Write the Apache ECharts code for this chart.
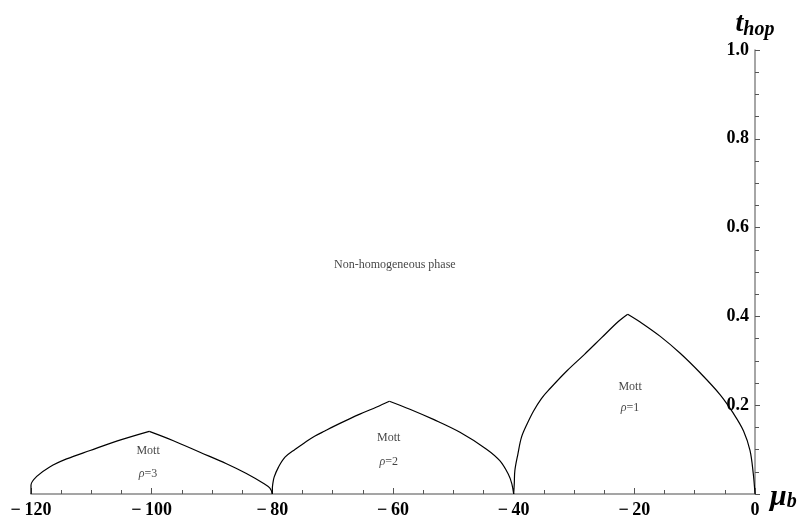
<!DOCTYPE html>
<html><head><meta charset="utf-8">
<script src="https://cdn.jsdelivr.net/npm/echarts@6/dist/echarts.min.js"></script>
<style>html,body{margin:0;padding:0;background:#fff}#c{width:800px;height:519px}</style>
</head><body><div id="c"></div>
<script>
// Mott lobe boundaries [mu_b, t_hop]; the peak (cusp) splits each lobe into two branches
const lobeRho1 = [[-40,0],[-39.9,0.023],[-39.8,0.053],[-39.3,0.09],[-38.7,0.128],[-37.8,0.157],[-36.7,0.187],[-35.4,0.215],[-34.0,0.237],[-31.2,0.277],[-28.3,0.314],[-25.5,0.351],[-22.7,0.388],[-21.1,0.405],[-19.1,0.388],[-15.7,0.355],[-12.4,0.317],[-9.1,0.273],[-5.8,0.224],[-3.6,0.182],[-1.9,0.142],[-0.83,0.098],[-0.28,0.045],[0,0]];
const lobeRho2 = [[-80,0],[-80,0.012],[-79.9,0.025],[-79.7,0.038],[-79.0,0.06],[-77.9,0.083],[-76.2,0.101],[-74.6,0.116],[-73.0,0.13],[-71.3,0.142],[-68.8,0.159],[-65.5,0.180],[-62.7,0.196],[-60.6,0.209],[-57.2,0.191],[-53.3,0.168],[-48.9,0.139],[-44.5,0.101],[-42.3,0.075],[-40.9,0.045],[-40.3,0.023],[-40,0]];
const lobeRho3 = [[-120,0],[-120,0.02],[-119.1,0.039],[-116.9,0.061],[-114.1,0.079],[-110.2,0.098],[-105.8,0.119],[-100.4,0.141],[-96.4,0.120],[-92.0,0.094],[-87.6,0.068],[-84.3,0.046],[-81.5,0.024],[-80.4,0.013],[-80,0]];
// text annotations [mu_b, t_hop, text]
const annotations = [
  [-59.7, 0.516, 'Non-homogeneous phase'],
  [-20.7, 0.241, 'Mott'], [-20.7, 0.194, '{i|ρ}=1'],
  [-60.7, 0.127, 'Mott'], [-60.7, 0.072, '{i|ρ}=2'],
  [-100.6, 0.098, 'Mott'], [-100.6, 0.045, '{i|ρ}=3']
];
const xTicks = {min: -120, max: 0, step: 20};
const yTicks = {min: 0, max: 1, step: 0.2};

const serif = 'Liberation Serif';
const chart = echarts.init(document.getElementById('c'));
const lineStyle = {color: '#000', width: 1.2};
function branches(data) {
  let k = 0;
  data.forEach((p, i) => { if (p[1] > data[k][1]) k = i; });
  const mk = d => ({type: 'line', data: d, symbol: 'none', smooth: 0.35, lineStyle: lineStyle, silent: true});
  return [mk(data.slice(0, k + 1)), mk(data.slice(k))];
}
chart.setOption({
  animation: false,
  backgroundColor: '#fff',
  grid: {left: 31, right: 45, top: 50, bottom: 22, containLabel: false},
  xAxis: {
    type: 'value', min: xTicks.min, max: xTicks.max, interval: xTicks.step,
    name: '{m|μ}{s|b}', nameLocation: 'end', nameGap: 15,
    nameTextStyle: {rich: {
      m: {fontFamily: serif, fontSize: 30, fontWeight: 'bold', fontStyle: 'italic', color: '#000', padding: [6,0,0,0]},
      s: {fontFamily: serif, fontSize: 20, fontWeight: 'bold', fontStyle: 'italic', color: '#000', padding: [16,0,0,0]}
    }},
    axisLine: {onZero: false, lineStyle: {color: '#888', width: 1.5}},
    axisTick: {inside: true, length: 6, lineStyle: {color: '#555'}},
    minorTick: {show: true, splitNumber: 4, length: 4, lineStyle: {color: '#555'}},
    splitLine: {show: false},
    axisLabel: {margin: 7, fontFamily: serif, fontSize: 18, fontWeight: 'bold', color: '#000',
      formatter: v => v < 0 ? '\u2212\u2009' + (-v) : String(v)}
  },
  yAxis: {
    type: 'value', position: 'right', min: yTicks.min, max: yTicks.max, interval: yTicks.step,
    name: '{t|t}{s|hop}', nameLocation: 'end', nameGap: 10,
    nameTextStyle: {rich: {
      t: {fontFamily: serif, fontSize: 28, fontWeight: 'bold', fontStyle: 'italic', color: '#000'},
      s: {fontFamily: serif, fontSize: 20, fontWeight: 'bold', fontStyle: 'italic', color: '#000', padding: [12,0,0,0]}
    }},
    axisLine: {onZero: false, lineStyle: {color: '#888', width: 1.5}},
    axisTick: {inside: false, length: 5, lineStyle: {color: '#555'}},
    minorTick: {show: true, splitNumber: 4, length: 4, lineStyle: {color: '#555'}},
    splitLine: {show: false},
    axisLabel: {inside: true, margin: 6, showMinLabel: false, fontFamily: serif, fontSize: 18, fontWeight: 'bold', color: '#000',
      formatter: v => v === 0 ? '' : v.toFixed(1)}
  },
  series: [
    ...branches(lobeRho1), ...branches(lobeRho2), ...branches(lobeRho3),
    {type: 'scatter', data: annotations, symbol: 'circle', symbolSize: 1, itemStyle: {color: 'rgba(0,0,0,0)'}, silent: true,
     label: {show: true, position: 'inside', color: '#111', fontFamily: serif, fontSize: 12,
       formatter: p => p.data[2],
       rich: {i: {fontFamily: serif, fontSize: 12, fontStyle: 'italic', color: '#111'}}}}
  ]
});
</script></body></html>
